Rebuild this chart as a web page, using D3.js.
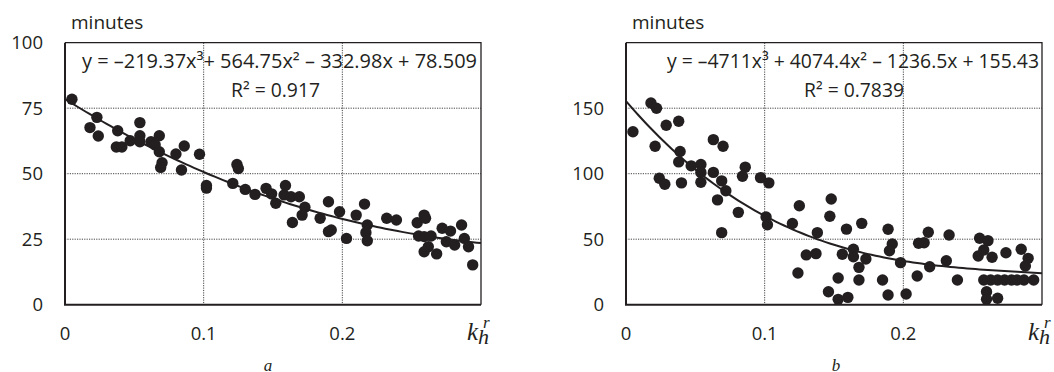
<!DOCTYPE html>
<html>
<head>
<meta charset="utf-8">
<script src="https://cdn.jsdelivr.net/npm/d3@7"></script>
<style>
  body { margin: 0; background: #fff; }
  svg { display: block; }
  .tick-label { font-family: "Open Sans", sans-serif; font-size: 18.5px; fill: #231f20; }
  .eq { font-family: "Open Sans", sans-serif; fill: #231f20; }
</style>
</head>
<body>
<div id="chart"></div>
<script>
// panel a
const xA = [0.005, 0.018, 0.023, 0.024, 0.038, 0.037, 0.041, 0.047, 0.054, 0.054, 0.054, 0.062, 0.065, 0.068, 0.068, 0.070, 0.069, 0.080, 0.086, 0.084, 0.097, 0.102, 0.102, 0.124, 0.125, 0.121, 0.130, 0.137, 0.145, 0.149, 0.152, 0.159, 0.158, 0.163, 0.169, 0.173, 0.171, 0.164, 0.184, 0.190, 0.198, 0.190, 0.192, 0.203, 0.210, 0.216, 0.218, 0.217, 0.218, 0.232, 0.239, 0.254, 0.259, 0.260, 0.255, 0.259, 0.264, 0.262, 0.259, 0.268, 0.272, 0.278, 0.275, 0.281, 0.286, 0.288, 0.291, 0.294]
const yA = [78.4, 67.6, 71.5, 64.4, 66.4, 60.2, 60.2, 62.6, 69.5, 64.5, 62.2, 62.2, 61, 64.5, 58.4, 54.2, 52.4, 57.5, 60.6, 51.4, 57.4, 44.5, 45.5, 53.5, 52, 46.3, 44, 42.1, 44.4, 42.3, 38.7, 45.5, 41.9, 41.2, 41.2, 37.2, 34.2, 31.4, 33.0, 39.3, 35.5, 27.9, 28.5, 25.3, 34.2, 38.4, 30.4, 27.5, 24.4, 33.0, 32.3, 31.3, 34.2, 33.0, 26.2, 26.0, 26.2, 22.1, 20.2, 19.4, 29.2, 28.1, 24.0, 22.8, 30.4, 25.3, 22.1, 15.2]
const coefA = [-219.37, 564.75, -332.98, 78.509]   // x^3, x^2, x, 1
const eqA = ['y = \u2013219.37x\u00b3+ 564.75x\u00b2 \u2013 332.98x + 78.509', 'R\u00b2 = 0.917']
const yTicksA = [0, 25, 50, 75, 100]

// panel b
const xB = [0.005, 0.018, 0.022, 0.021, 0.029, 0.038, 0.039, 0.038, 0.047, 0.054, 0.054, 0.063, 0.063, 0.070, 0.086, 0.084, 0.097, 0.103, 0.024, 0.028, 0.040, 0.054, 0.069, 0.072, 0.066, 0.081, 0.101, 0.102, 0.069, 0.125, 0.120, 0.138, 0.148, 0.147, 0.130, 0.137, 0.124, 0.146, 0.153, 0.160, 0.153, 0.159, 0.170, 0.156, 0.164, 0.164, 0.173, 0.168, 0.168, 0.185, 0.189, 0.192, 0.190, 0.198, 0.189, 0.202, 0.210, 0.211, 0.215, 0.218, 0.219, 0.233, 0.231, 0.239, 0.255, 0.261, 0.254, 0.258, 0.264, 0.274, 0.285, 0.290, 0.288, 0.258, 0.263, 0.268, 0.273, 0.278, 0.282, 0.287, 0.294, 0.260, 0.260, 0.268]
const yB = [132, 154, 150, 121, 137, 140, 117, 109, 106, 107, 101, 101, 126, 121, 105, 98, 97, 93, 96.5, 92, 93, 93.5, 94.5, 87, 80, 70.5, 67, 61, 55, 75.5, 62, 55, 80.7, 67.5, 38, 39, 24.2, 9.9, 4.1, 5.6, 20.4, 57.7, 62.1, 38.5, 42.3, 36.6, 34.9, 28.5, 18.9, 18.9, 57.6, 46.3, 41.2, 32.1, 7.4, 8.2, 21.9, 46.9, 47.3, 55.3, 29.0, 53.2, 33.6, 18.9, 50.7, 48.9, 37.2, 41.8, 36.2, 39.7, 42.3, 35.4, 29.5, 18.9, 18.9, 18.9, 18.9, 18.9, 18.9, 18.9, 18.9, 9.9, 4.1, 4.9]
const coefB = [-4711, 4074.4, -1236.5, 155.43]
const eqB = ['y = \u20134711x\u00b3 + 4074.4x\u00b2 \u2013 1236.5x + 155.43', 'R\u00b2 = 0.7839']
const yTicksB = [0, 50, 100, 150]

const xTicks = [0, 0.1, 0.2]
const xGrid = [0.1, 0.2]

const width = 1054
const height = 372
const svg = d3.select('#chart')
  .append('svg')
  .attr('width', width)
  .attr('height', height)

const ink = '#231f20'

const drawPanel = (cfg) => {
  const {left, right, top, bottom} = cfg
  const x = d3.scaleLinear().domain([0, 0.3]).range([left, right])
  const y = d3.scaleLinear().domain([0, cfg.yMax]).range([bottom, top])
  const g = svg.append('g')

  // grid
  g.selectAll('.hgrid')
    .data(cfg.yTicks.filter(v => v > 0 && v < cfg.yMax))
    .enter()
    .append('line')
    .attr('x1', left).attr('x2', right)
    .attr('y1', d => y(d)).attr('y2', d => y(d))
    .attr('stroke', '#444')
    .attr('stroke-width', 1)
    .attr('stroke-dasharray', '1.2,1.2')
  g.selectAll('.vgrid')
    .data(xGrid)
    .enter()
    .append('line')
    .attr('x1', d => x(d)).attr('x2', d => x(d))
    .attr('y1', top).attr('y2', bottom)
    .attr('stroke', '#444')
    .attr('stroke-width', 1)
    .attr('stroke-dasharray', '1.2,1.2')

  // frame: thin top/right, heavier left/bottom
  g.append('path')
    .attr('d', `M${left},${top}H${right}V${bottom}`)
    .attr('fill', 'none')
    .attr('stroke', ink)
    .attr('stroke-width', 1.3)
  g.append('path')
    .attr('d', `M${left},${top}V${bottom}H${right}`)
    .attr('fill', 'none')
    .attr('stroke', ink)
    .attr('stroke-width', 2)

  // tick labels
  g.selectAll('.ylab')
    .data(cfg.yTicks)
    .enter()
    .append('text')
    .attr('class', 'tick-label')
    .attr('x', left - 22)
    .attr('y', d => y(d))
    .attr('dy', '0.36em')
    .attr('text-anchor', 'end')
    .text(d => d)
  g.selectAll('.xlab')
    .data(xTicks)
    .enter()
    .append('text')
    .attr('class', 'tick-label')
    .attr('x', d => x(d))
    .attr('y', bottom + 35)
    .attr('text-anchor', 'middle')
    .text(d => d)

  g.append('text')
    .attr('class', 'tick-label')
    .attr('x', left + 6)
    .attr('y', 29)
    .style('font-size', '19px')
    .text('minutes')

  // points
  g.selectAll('circle')
    .data(cfg.xs.map((v, i) => [v, cfg.ys[i]]))
    .enter()
    .append('circle')
    .attr('cx', d => x(d[0]))
    .attr('cy', d => y(d[1]))
    .attr('r', 5.7)
    .attr('fill', ink)

  // trendline
  const c = cfg.coef
  const poly = t => ((c[0] * t + c[1]) * t + c[2]) * t + c[3]
  const samples = d3.range(0, 0.3001, 0.003)
  g.append('path')
    .datum(samples)
    .attr('d', d3.line().x(d => x(d)).y(d => y(poly(d))))
    .attr('fill', 'none')
    .attr('stroke', ink)
    .attr('stroke-width', 2)

  // equation
  g.selectAll('.eq')
    .data(cfg.eq)
    .enter()
    .append('text')
    .attr('class', 'eq')
    .attr('x', (d, i) => cfg.eqX[i])
    .attr('y', (d, i) => cfg.eqY[i])
    .attr('font-size', (d, i) => cfg.eqSize[i])
    .attr('textLength', (d, i) => cfg.eqW[i])
    .attr('lengthAdjust', 'spacingAndGlyphs')
    .text(d => d)

  // axis title k_h^r
  const kt = g.append('text')
    .attr('x', right - 14)
    .attr('y', bottom + 35)
    .attr('font-family', '"Liberation Serif", serif')
    .attr('font-style', 'italic')
    .attr('fill', ink)
  kt.append('tspan').attr('font-size', 25).text('k')
  kt.append('tspan').attr('font-size', 22).attr('dy', 4).attr('dx', 0).text('h')
  kt.append('tspan').attr('font-size', 17).attr('x', right + 2).attr('dy', -16).text('r')

  // sub caption
  g.append('text')
    .attr('x', cfg.capX)
    .attr('y', 371)
    .attr('font-family', '"Liberation Serif", serif')
    .attr('font-style', 'italic')
    .attr('font-size', 17)
    .attr('text-anchor', 'middle')
    .attr('fill', ink)
    .text(cfg.cap)
}

drawPanel({
  left: 65, right: 481, top: 42.7, bottom: 304.7,
  yMax: 100, yTicks: yTicksA, xs: xA, ys: yA, coef: coefA,
  eq: eqA, eqX: [82, 231], eqY: [68, 97], eqSize: [19.5, 19.5], eqW: [395, 89],
  cap: 'a', capX: 268
})
drawPanel({
  left: 626, right: 1042, top: 42.7, bottom: 304.7,
  yMax: 200, yTicks: yTicksB, xs: xB, ys: yB, coef: coefB,
  eq: eqB, eqX: [667, 804], eqY: [68, 96.5], eqSize: [19.5, 19.5], eqW: [372, 100],
  cap: 'b', capX: 836
})
</script>
</body>
</html>
